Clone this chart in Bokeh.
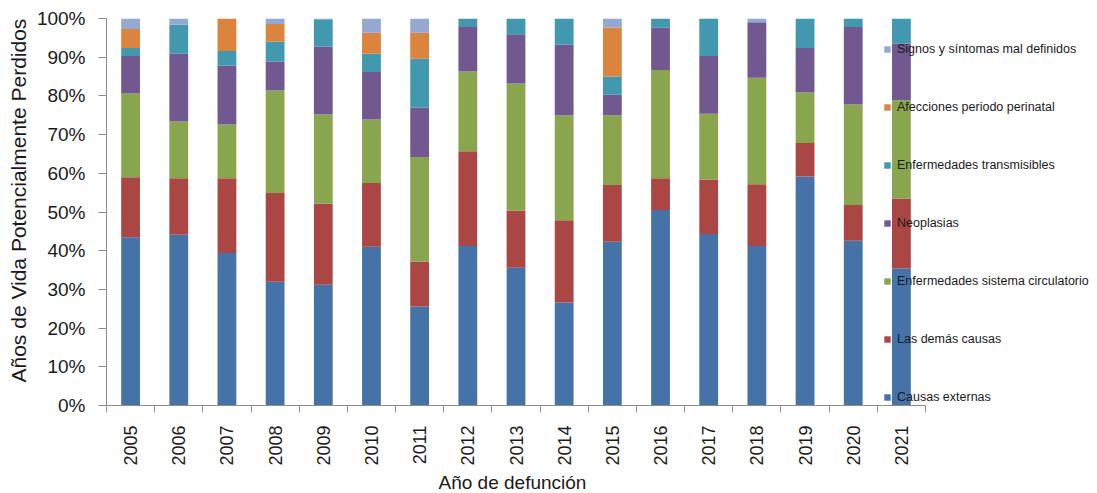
import math
from bokeh.plotting import figure
from bokeh.models import (ColumnDataSource, FixedTicker, Legend, LegendItem,
                          Range1d, PrintfTickFormatter, Title)
from bokeh.embed import file_html
from bokeh.resources import INLINE

years = [2005, 2006, 2007, 2008, 2009, 2010, 2011, 2012, 2013,
         2014, 2015, 2016, 2017, 2018, 2019, 2020, 2021]

causas_externas = [43.5, 44.1, 39.4, 32.0, 31.2, 41.0, 25.6, 41.2, 35.6,
                   26.6, 42.3, 50.5, 44.3, 41.2, 59.2, 42.6, 35.4]
demas_causas = [15.5, 14.6, 19.3, 22.9, 20.9, 16.5, 11.6, 24.5, 14.7,
                21.3, 14.7, 8.2, 14.1, 16.0, 8.6, 9.2, 18.1]
circulatorio = [21.6, 14.7, 13.9, 26.5, 23.1, 16.4, 27.0, 20.6, 32.9,
                27.1, 18.0, 28.0, 17.0, 27.5, 13.1, 26.0, 25.4]
neoplasias = [9.7, 17.5, 15.2, 7.4, 17.5, 12.3, 12.8, 11.5, 12.7,
              18.2, 5.3, 10.9, 14.9, 14.3, 11.5, 20.0, 14.6]
transmisibles = [2.1, 7.5, 3.8, 5.2, 6.9, 4.7, 12.6, 2.2, 4.1,
                 6.8, 4.7, 2.4, 9.7, 0.0, 7.6, 2.2, 6.5]
perinatal = [4.9, 0.0, 8.4, 4.6, 0.0, 5.4, 6.7, 0.0, 0.0,
             0.0, 12.6, 0.0, 0.0, 0.0, 0.0, 0.0, 0.0]
signos = [2.7, 1.6, 0.0, 1.4, 0.4, 3.7, 3.7, 0.0, 0.0,
          0.0, 2.4, 0.0, 0.0, 1.0, 0.0, 0.0, 0.0]

series_names = ["Causas externas", "Las demás causas",
                "Enfermedades sistema circulatorio", "Neoplasias",
                "Enfermedades transmisibles", "Afecciones periodo perinatal",
                "Signos y síntomas mal definidos"]
series_values = [causas_externas, demas_causas, circulatorio, neoplasias,
                 transmisibles, perinatal, signos]
colors = ["#4572A7", "#AA4643", "#89A54E", "#71588F", "#4198AF", "#DB843D", "#93A9CF"]

keys = ["s%d" % i for i in range(len(series_names))]
data = {"year": years}
for k, v in zip(keys, series_values):
    data[k] = v
source = ColumnDataSource(data)

FRAME_W = 983
PX_PER_YEAR = 819 / 17.0
x_start = years[0] - 0.5
x_end = x_start + FRAME_W / PX_PER_YEAR

p = figure(frame_width=FRAME_W, frame_height=387,
           x_range=Range1d(x_start, x_end), y_range=Range1d(0, 100),
           output_backend="svg", toolbar_location=None,
           min_border_left=106, min_border_right=0,
           min_border_top=18, min_border_bottom=10)
p.outline_line_color = None
p.xgrid.visible = False
p.ygrid.visible = False
p.background_fill_color = "white"

rs = p.vbar_stack(keys, x="year", width=0.39, color=colors, source=source,
                  line_color=None)

FONT = "Liberation Sans"
TXT = "#1a1a1a"

# x axis
xa = p.xaxis[0]
xa.bounds = (years[0] - 0.5, years[-1] + 0.5)
xa.ticker = FixedTicker(ticks=years, minor_ticks=[y - 0.5 for y in years] + [years[-1] + 0.5])
xa.major_label_overrides = {y: str(y) for y in years}
xa.major_tick_line_color = None
xa.minor_tick_out = 7
xa.minor_tick_in = 0
xa.minor_tick_line_color = "#8c8c8c"
xa.axis_line_color = "#8c8c8c"
xa.major_label_orientation = math.pi / 2
xa.major_label_text_font = FONT
xa.major_label_text_font_size = "18px"
xa.major_label_text_color = TXT
xa.major_label_standoff = 13

p.add_layout(Title(text="Año de defunción", align="left", offset=332,
                   text_font=FONT, text_font_size="19px",
                   text_font_style="normal", text_color=TXT,
                   standoff=2), "below")

# y axis
ya = p.yaxis[0]
ya.ticker = FixedTicker(ticks=list(range(0, 101, 10)))
ya.formatter = PrintfTickFormatter(format="%d%%")
ya.major_tick_out = 8
ya.major_tick_in = 0
ya.minor_tick_line_color = None
ya.major_tick_line_color = "#8c8c8c"
ya.axis_line_color = "#8c8c8c"
ya.major_label_text_font = FONT
ya.major_label_text_font_size = "19px"
ya.major_label_text_color = TXT
ya.major_label_standoff = 13

p.add_layout(Title(text="Años de Vida Potencialmente Perdidos", align="left",
                   offset=23, text_font=FONT, text_font_size="21px",
                   text_font_style="normal", text_color=TXT,
                   standoff=8), "left")

items = [LegendItem(label=n, renderers=[r]) for n, r in zip(series_names, rs)]
items = items[::-1]
legend = Legend(items=items, location=(777, 0), orientation="vertical",
                glyph_width=8, glyph_height=8, label_height=16,
                spacing=42, padding=0, margin=0, label_standoff=6,
                label_text_font=FONT,
                label_text_font_size="12.5px", label_text_color=TXT,
                background_fill_alpha=0, border_line_color=None)
p.add_layout(legend, "center")

open("out.html", "w").write(file_html(p, INLINE))
